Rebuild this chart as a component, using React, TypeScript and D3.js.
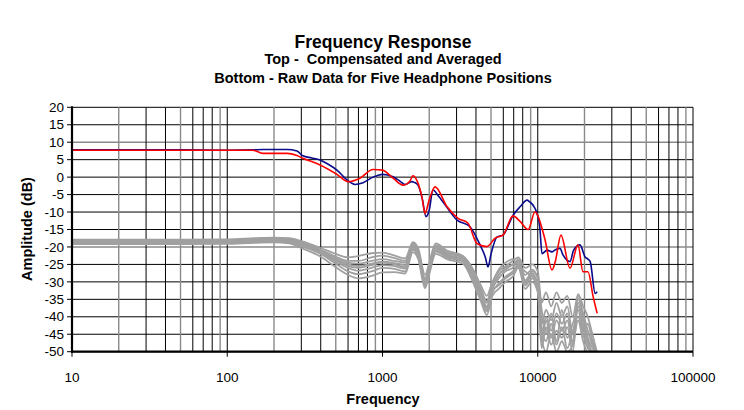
import React from "react";
import * as d3 from "d3";

const W = 744;
const H = 410;

const yTicks = [20, 15, 10, 5, 0, -5, -10, -15, -20, -25, -30, -35, -40, -45, -50];
const xDecades = [10, 100, 1000, 10000, 100000];
const xTickLabels = ["10", "100", "1000", "10000", "100000"];

// Compensated & averaged (blue)
const blueFreq = [10, 20, 50, 100, 146, 170, 200, 243, 281, 307, 350, 396, 450, 509, 590, 665, 749, 868, 922, 1000, 1169, 1300, 1395, 1546, 1600, 1693, 1800, 1906, 2000, 2114, 2300, 2454, 3020, 3660, 4246, 4600, 4780, 5000, 5470, 5970, 6935, 7690, 8530, 8820, 9590, 10290, 10650, 11490, 12360, 13000, 13900, 14540, 16140, 17000, 18710, 20150, 21060, 21770, 23430, 24140];
const blueDb = [7.8, 7.8, 7.8, 7.7, 7.8, 7.9, 7.9, 7.9, 7.5, 6.1, 5.5, 4.9, 3.6, 2.0, -0.8, -2.1, -1.6, 0.0, 0.4, 0.8, 0.1, -1.2, -2.1, -1.3, -1.5, -2.3, -6.0, -11.3, -9.5, -3.7, -5.5, -7.1, -12.3, -14.2, -19.4, -23.0, -25.7, -22.0, -17.1, -16.6, -10.9, -8.5, -6.6, -7.0, -8.9, -14.0, -21.9, -20.9, -21.4, -20.8, -20.4, -22.3, -24.2, -21.0, -19.4, -22.8, -23.5, -24.2, -33.3, -32.8];

// Compensated & averaged (red)
const redFreq = [10, 50, 100, 146, 170, 243, 281, 307, 396, 509, 600, 716, 868, 1000, 1169, 1355, 1503, 1570, 1667, 1800, 1878, 2000, 2180, 2607, 3070, 3556, 4060, 4710, 5306, 5970, 6935, 7690, 8680, 9590, 10810, 11150, 12360, 13000, 14100, 16140, 18160, 19560, 21060, 22750, 24140];
const redDb = [7.7, 7.7, 7.7, 7.7, 6.8, 6.8, 6.2, 5.4, 3.5, 0.8, -1.3, -0.3, 2.2, 2.0, -0.3, -2.3, -1.1, 0.4, -1.0, -6.0, -10.4, -6.5, -2.8, -8.5, -11.8, -13.2, -19.0, -19.9, -17.5, -16.6, -11.1, -12.7, -15.0, -10.0, -15.7, -18.0, -26.6, -24.0, -16.6, -26.1, -19.4, -27.1, -27.1, -34.3, -39.0];

// Raw data, five headphone positions (gray)
const rawFreq = [10, 50, 100, 150, 200, 250, 300, 400, 500, 600, 700, 850, 1000, 1200, 1400, 1570, 1700, 1880, 2000, 2200, 2600, 3300, 3900, 4300, 4700, 5100, 5600, 6200, 6900, 7500, 8300, 9200, 10000, 10600, 11300, 12200, 13200, 14300, 15500, 16800, 18200, 19600, 21000, 22500, 24000];
const raw1 = [-17.9, -17.9, -17.8, -17.5, -17.3, -17.5, -18.3, -20.3, -22.0, -23.0, -22.6, -21.8, -21.6, -22.5, -23.3, -18.6, -20.5, -28.0, -24.5, -19.0, -21.0, -22.6, -27.0, -31.0, -34.0, -30.0, -27.0, -25.5, -24.0, -23.0, -26.0, -25.0, -27.0, -36.0, -33.0, -37.0, -33.0, -36.0, -34.0, -40.0, -33.5, -37.0, -40.0, -45.0, -50.0];
const raw2 = [-18.3, -18.3, -18.2, -17.9, -17.8, -18.0, -18.8, -21.0, -23.0, -24.5, -24.8, -24.0, -23.5, -24.0, -24.5, -19.3, -21.5, -29.5, -25.5, -19.8, -21.8, -23.0, -28.0, -32.5, -36.0, -31.0, -28.0, -26.5, -25.0, -24.0, -28.0, -26.5, -29.0, -42.0, -38.0, -41.0, -36.0, -40.0, -37.0, -45.0, -35.0, -39.0, -44.0, -48.0, -50.0];
const raw3 = [-18.6, -18.6, -18.5, -18.2, -18.0, -18.3, -19.3, -21.5, -23.8, -25.5, -26.0, -25.2, -24.5, -25.0, -25.8, -20.2, -22.0, -30.5, -26.5, -20.5, -22.5, -23.5, -29.0, -33.5, -37.5, -32.0, -29.0, -27.0, -26.0, -23.5, -29.5, -27.5, -31.0, -45.0, -40.0, -44.0, -39.0, -42.0, -39.0, -47.0, -34.0, -40.0, -46.0, -49.0, -50.0];
const raw4 = [-18.9, -18.9, -18.8, -18.5, -18.3, -18.7, -19.8, -22.0, -24.8, -27.0, -27.8, -27.0, -26.0, -26.3, -27.0, -20.8, -22.8, -31.3, -27.0, -21.3, -23.0, -24.2, -30.0, -34.5, -38.5, -33.0, -30.5, -28.5, -27.0, -25.0, -31.0, -29.0, -32.0, -47.0, -41.0, -46.0, -41.0, -44.0, -41.0, -48.0, -36.0, -42.0, -47.0, -50.0, -50.0];
const raw5 = [-19.2, -19.2, -19.1, -18.8, -18.7, -19.0, -20.3, -22.8, -25.8, -28.0, -29.0, -28.3, -27.3, -27.2, -27.6, -21.5, -23.5, -31.8, -27.8, -22.0, -23.5, -24.8, -31.0, -35.5, -39.5, -34.0, -32.0, -30.0, -28.5, -26.0, -32.0, -30.0, -33.0, -49.0, -43.0, -48.0, -44.0, -46.0, -43.0, -50.0, -37.0, -43.0, -48.0, -50.0, -50.0];
const raw6 = [-18.1, -18.1, -18.0, -17.7, -17.6, -17.8, -18.6, -20.8, -22.8, -24.0, -24.0, -23.0, -22.5, -23.2, -24.0, -19.0, -21.0, -29.0, -25.2, -19.5, -21.5, -22.8, -27.5, -32.0, -35.5, -30.5, -26.5, -24.5, -23.5, -25.5, -27.0, -28.5, -30.0, -38.0, -45.0, -39.0, -47.0, -38.0, -46.0, -42.0, -38.0, -44.0, -42.0, -47.0, -50.0];
const raw7 = [-18.5, -18.5, -18.4, -18.1, -17.9, -18.1, -19.0, -21.3, -23.5, -25.0, -25.5, -24.8, -24.2, -24.6, -25.2, -19.8, -21.8, -30.0, -26.0, -20.2, -22.2, -23.4, -28.5, -33.0, -37.0, -31.5, -28.0, -26.0, -25.0, -24.5, -30.0, -27.0, -28.5, -43.0, -47.0, -42.0, -48.0, -43.0, -49.0, -44.0, -40.0, -45.0, -49.0, -50.0, -50.0];
const raw8 = [-18.8, -18.8, -18.7, -18.4, -18.2, -18.5, -19.6, -21.8, -24.2, -26.0, -26.8, -26.0, -25.2, -25.5, -26.2, -20.5, -22.5, -31.0, -26.8, -21.0, -22.8, -24.0, -29.5, -34.0, -38.0, -32.5, -31.0, -29.0, -27.5, -25.5, -30.5, -28.0, -31.0, -46.0, -50.0, -45.0, -50.0, -47.0, -50.0, -48.0, -41.0, -47.0, -50.0, -50.0, -50.0];
const rawSeries = [raw1, raw2, raw3, raw4, raw5, raw6, raw7, raw8];

// minor grid multipliers; gray ones drawn lighter
const minorMult = [2, 3, 4, 5, 6, 7, 8, 9];
const minorGray = [true, false, false, true, false, false, false, true];
const grayH = [10, -20];

const FONT = "'Liberation Sans', Arial, sans-serif";

export default function App() {
  const left = 72, right = 693, top = 107.3, bottom = 351.7;
  const x = d3.scaleLog().domain([10, 100000]).range([left, right]);
  const y = d3.scaleLinear().domain([-50, 20]).range([bottom, top]);

  const line = d3
    .line<[number, number]>()
    .x((d) => x(d[0]))
    .y((d) => y(d[1]))
    .curve(d3.curveMonotoneX);

  const pairs = (f: number[], v: number[]) => f.map((ff, i) => [ff, v[i]] as [number, number]);

  const minorLines: { f: number; gray: boolean }[] = [];
  for (let d = 0; d < 4; d++) {
    const base = xDecades[d];
    minorMult.forEach((m, i) => minorLines.push({ f: base * m, gray: minorGray[i] }));
  }

  return (
    <svg width={W} height={H} style={{ position: "absolute", left: 0, top: 0, background: "#fff" }}>
      <defs>
        <clipPath id="plot">
          <rect x={left} y={top} width={right - left} height={bottom - top} />
        </clipPath>
      </defs>
      <rect x={0} y={0} width={W} height={H} fill="#fff" />
      <g fontFamily={FONT} fontWeight="bold" textAnchor="middle" fill="#000">
        <text x={383} y={48} fontSize={17.5}>Frequency Response</text>
        <text x={383} y={64} fontSize={14.5} style={{ whiteSpace: "pre" }}>{"Top -  Compensated and Averaged"}</text>
        <text x={383} y={83} fontSize={14.5}>Bottom - Raw Data for Five Headphone Positions</text>
        <text x={383} y={404} fontSize={14.5}>Frequency</text>
        <text transform={`translate(32,229) rotate(-90)`} fontSize={14.5}>Amplitude (dB)</text>
      </g>

      {/* horizontal grid */}
      {yTicks.map((t) => (
        <line key={"h" + t} x1={left} x2={right} y1={y(t)} y2={y(t)}
          stroke={grayH.includes(t) ? "#8a8a8a" : "#000"} strokeWidth={grayH.includes(t) ? 1.6 : 1} />
      ))}
      {/* vertical grid */}
      {minorLines.map((m) => (
        <line key={"v" + m.f} x1={x(m.f)} x2={x(m.f)} y1={top} y2={bottom}
          stroke={m.gray ? "#8a8a8a" : "#000"} strokeWidth={m.gray ? 1.4 : 1} />
      ))}
      {xDecades.map((f) => (
        <line key={"d" + f} x1={x(f)} x2={x(f)} y1={top} y2={bottom} stroke="#000" strokeWidth={1} />
      ))}

      <g clipPath="url(#plot)" fill="none">
        {rawSeries.map((s, i) => (
          <path key={"r" + i} d={line(pairs(rawFreq, s)) || ""} stroke="#a0a0a0" strokeWidth={1.8} strokeLinejoin="round" />
        ))}
        <path d={line(pairs(blueFreq, blueDb)) || ""} stroke="#0a0a8c" strokeWidth={1.6} />
        <path d={line(pairs(redFreq, redDb)) || ""} stroke="#ff0000" strokeWidth={1.6} />
      </g>

      {/* axes */}
      <line x1={left} x2={left} y1={top - 1} y2={bottom + 1} stroke="#000" strokeWidth={2.2} />
      <line x1={left - 1} x2={right} y1={bottom} y2={bottom} stroke="#000" strokeWidth={2.2} />
      {yTicks.map((t) => (
        <line key={"yt" + t} x1={left - 5} x2={left} y1={y(t)} y2={y(t)} stroke="#000" strokeWidth={1} />
      ))}
      {xDecades.map((f) => (
        <line key={"xt" + f} x1={x(f)} x2={x(f)} y1={bottom} y2={bottom + 5} stroke="#000" strokeWidth={1} />
      ))}
      <g fontFamily={FONT} fontSize={13.5} fill="#000">
        {yTicks.map((t) => (
          <text key={"yl" + t} x={64} y={y(t) + 4.7} textAnchor="end">{t}</text>
        ))}
        {xDecades.map((f, i) => (
          <text key={"xl" + f} x={x(f)} y={382} textAnchor="middle">{xTickLabels[i]}</text>
        ))}
      </g>
    </svg>
  );
}
